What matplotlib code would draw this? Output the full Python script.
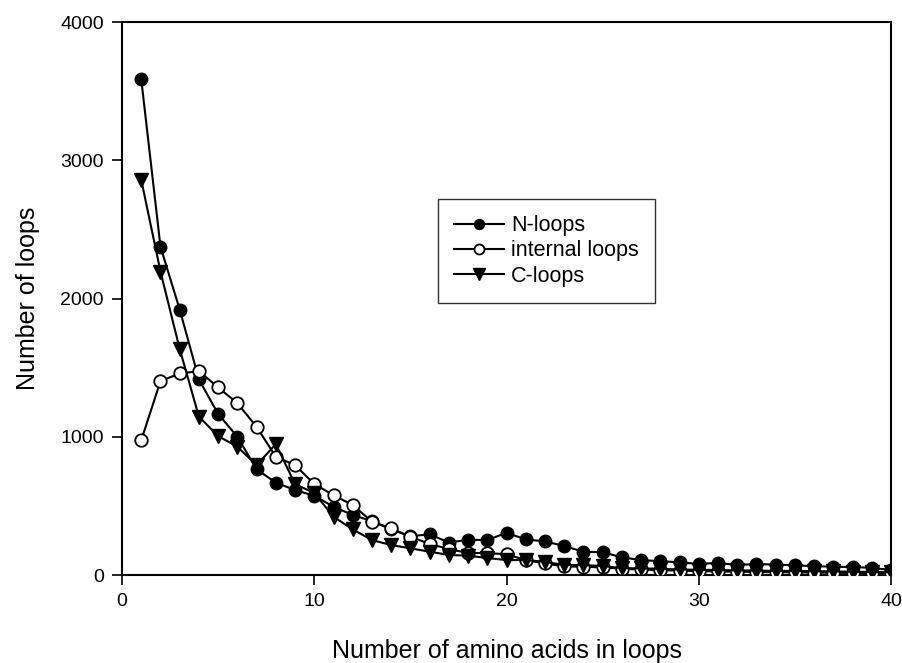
import matplotlib
matplotlib.use("Agg")
import matplotlib.pyplot as plt

plt.rcParams['font.family'] = ['Liberation Sans', 'DejaVu Sans']

x = list(range(1, 41))
n_loops = [3585, 2375, 1920, 1415, 1165, 1000, 765, 668, 615, 573,
           494, 434, 390, 330, 280, 295, 235, 255, 253, 305,
           258, 243, 210, 168, 165, 128, 108, 100, 92, 80,
           88, 72, 80, 75, 70, 64, 60, 58, 52, 36]
internal = [975, 1403, 1458, 1475, 1357, 1243, 1072, 855, 795, 658,
            578, 506, 386, 337, 277, 225, 188, 159, 159, 150,
            108, 84, 62, 60, 55, 45, 40, 35, 32, 28,
            26, 24, 22, 20, 20, 18, 16, 15, 14, 12]
c_loops = [2858, 2195, 1635, 1145, 1005, 928, 795, 947, 658, 593,
           422, 330, 253, 217, 193, 169, 145, 140, 123, 108,
           108, 96, 72, 72, 65, 50, 48, 45, 40, 38,
           36, 34, 32, 30, 30, 28, 26, 24, 22, 20]

fig = plt.figure(figsize=(9.02, 6.63), dpi=100)
ax = fig.add_axes([0.1353, 0.1327, 0.8525, 0.834])

ms = 9
ax.plot(x, n_loops, '-', color='black', lw=1.5, marker='o', ms=ms,
        mfc='black', mec='black', label='N-loops', zorder=3)
ax.plot(x, internal, '-', color='black', lw=1.5, marker='o', ms=ms,
        mfc='white', mec='black', mew=1.3, label='internal loops', zorder=4)
ax.plot(x, c_loops, '-', color='black', lw=1.5, marker='v', ms=ms + 1,
        mfc='black', mec='black', label='C-loops', zorder=5)

ax.set_xlim(0, 40)
ax.set_ylim(0, 4000)
ax.set_xticks([0, 10, 20, 30, 40])
ax.set_yticks([0, 1000, 2000, 3000, 4000])
ax.tick_params(direction='out', length=7, width=1.2, labelsize=14, pad=6)
for s in ax.spines.values():
    s.set_linewidth(1.5)

ax.set_xlabel('Number of amino acids in loops', fontsize=18, labelpad=21)
ax.set_ylabel('Number of loops', fontsize=18, labelpad=15)

leg = ax.legend(loc='upper left', bbox_to_anchor=(0.411, 0.680), fontsize=15.5,
                frameon=True, fancybox=False, edgecolor='black',
                handlelength=2.3, borderpad=0.75, labelspacing=0.2,
                handletextpad=0.35, markerscale=0.8, borderaxespad=0)
leg.get_frame().set_linewidth(1.0)

fig.savefig('out.png', dpi=100)
